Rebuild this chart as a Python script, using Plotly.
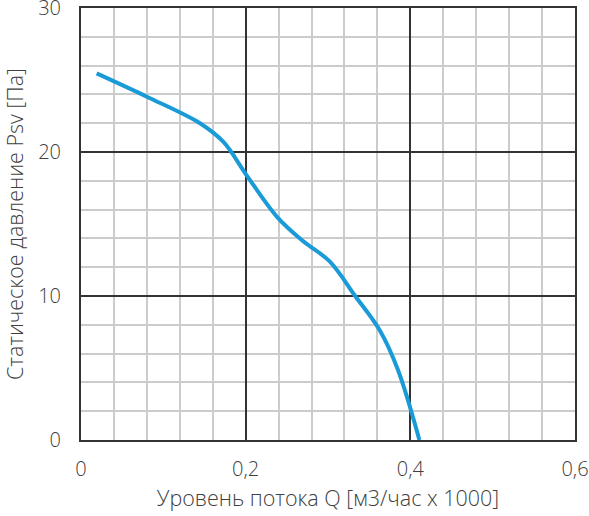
import plotly.graph_objects as go

flow_q = [0.019, 0.080, 0.1445, 0.173, 0.201, 0.238, 0.270, 0.302, 0.333, 0.363, 0.385, 0.411]
pressure = [25.46, 23.84, 22.0, 20.7, 18.4, 15.5, 13.8, 12.4, 10.0, 7.6, 4.86, 0.0]

x_ticks = [0, 0.2, 0.4, 0.6]
x_tick_labels = ["0", "0,2", "0,4", "0,6"]
y_ticks = [0, 10, 20, 30]

fig = go.Figure()
fig.add_trace(go.Scatter(
    x=flow_q, y=pressure, mode="lines",
    line=dict(color="#1a9bd7", width=4, shape="spline", smoothing=1.0),
    showlegend=False, hoverinfo="skip",
))

font_color = "#404040"
fig.update_layout(
    width=589, height=516,
    margin=dict(l=81, r=14, t=8, b=76, autoexpand=False),
    paper_bgcolor="white", plot_bgcolor="white",
    font=dict(family="Open Sans, sans-serif", size=20, color=font_color, weight=300),
    separators=", ",
)
fig.update_xaxes(
    range=[0, 0.6], tickvals=x_ticks, ticktext=x_tick_labels,
    showgrid=True, gridcolor="#333333", gridwidth=1.5,
    minor=dict(dtick=0.04, tick0=0, showgrid=True, gridcolor="#cccccc", gridwidth=1.5),
    showline=True, linecolor="#333333", linewidth=2, mirror=True,
    zeroline=False, ticks="", ticklabelstandoff=10, automargin=False,
    ticklabeloverflow="allow",
    title=dict(text="Уровень потока Q [м3/час x 1000]", standoff=10,
               font=dict(size=21.5, weight=300)),
)
fig.update_yaxes(
    range=[0, 30], tickvals=y_ticks,
    showgrid=True, gridcolor="#333333", gridwidth=1.5,
    minor=dict(dtick=2, tick0=0, showgrid=True, gridcolor="#cccccc", gridwidth=1.5),
    showline=True, linecolor="#333333", linewidth=2, mirror=True,
    zeroline=False, ticks="", ticklabelstandoff=14, automargin=False,
    ticklabeloverflow="allow",
    title=dict(text="Статическое давление Psv [Па]", standoff=10,
               font=dict(size=21.5, weight=300)),
)

fig.write_html("out.html", config={"displayModeBar": False},
               post_script="document.body.style.margin='0';")
